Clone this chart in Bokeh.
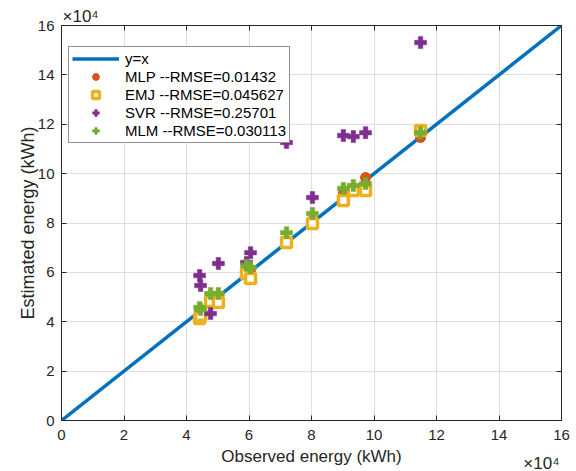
from bokeh.plotting import figure
from bokeh.models import (LinearAxis, Range1d, Legend, LegendItem, Title,
                          CustomJSTickFormatter, FixedTicker)
from bokeh.embed import file_html
from bokeh.resources import INLINE

# ---- data (kWh) ----
observed = [44200, 44500, 47700, 50200, 59200, 60500, 72000, 80300, 90200, 93400, 97300, 114900]
mlp = [43700, 44200, 49400, 50200, 61600, 60000, 72100, 81000, 91900, 94000, 98400, 114600]
emj = [41300, 42500, 48200, 47800, 59500, 57500, 72100, 79800, 89100, 93200, 93200, 117500]
svr = [58700, 54700, 43300, 63600, 64000, 68000, 112600, 90300, 115400, 115000, 116600, 153100]
mlm = [45800, 45000, 51400, 51400, 62800, 62000, 76100, 83800, 94000, 95200, 96000, 116600]
ref_line = [0, 160000]
ticks = [0, 20000, 40000, 60000, 80000, 100000, 120000, 140000, 160000]
labels = ["y=x", "MLP --RMSE=0.01432", "EMJ --RMSE=0.045627",
          "SVR --RMSE=0.25701", "MLM --RMSE=0.030113"]
exponent = "×10⁴"

FONT = "Liberation Sans"
AX = "#262626"

p = figure(width=576, height=471, output_backend="svg", toolbar_location=None,
           x_range=Range1d(0, 160000), y_range=Range1d(0, 160000),
           min_border_left=61, min_border_right=15, min_border_top=25, min_border_bottom=51,
           x_axis_label="Observed energy (kWh)", y_axis_label="Estimated energy (kWh)")
p.outline_line_color = None
p.background_fill_color = "white"
p.border_fill_color = "white"

fmt = CustomJSTickFormatter(code="return (tick/10000).toFixed(0);")
blank = CustomJSTickFormatter(code="return '';")

for ax in (p.xaxis[0], p.yaxis[0]):
    ax.ticker = FixedTicker(ticks=ticks)
    ax.formatter = fmt
    ax.major_tick_in = 5
    ax.major_tick_out = 0
    ax.minor_tick_line_color = None
    ax.axis_line_color = AX
    ax.major_tick_line_color = AX
    ax.major_label_text_color = AX
    ax.major_label_text_font = FONT
    ax.major_label_text_font_size = "15px"
    ax.axis_label_text_font = FONT
    ax.axis_label_text_font_style = "normal"
    ax.axis_label_text_color = AX
p.xaxis[0].major_label_standoff = 9
p.yaxis[0].major_label_standoff = 7
p.xaxis[0].axis_label_text_font_size = "17px"
p.yaxis[0].axis_label_text_font_size = "18px"
p.xaxis[0].axis_label_standoff = 4
p.yaxis[0].axis_label_standoff = -3

for loc in ("above", "right"):
    a = LinearAxis(ticker=FixedTicker(ticks=ticks), formatter=blank,
                   major_tick_in=5, major_tick_out=0,
                   minor_tick_line_color=None, axis_line_color=AX,
                   major_tick_line_color=AX, major_label_standoff=0,
                   major_label_text_font_size="1px")
    p.add_layout(a, loc)

p.xgrid.ticker = FixedTicker(ticks=ticks)
p.ygrid.ticker = FixedTicker(ticks=ticks)
p.xgrid.grid_line_color = "#dfdfdf"
p.ygrid.grid_line_color = "#dfdfdf"

r0 = p.line(ref_line, ref_line, line_color="#0072BD", line_width=3.5)
r1 = p.scatter(observed, mlp, marker="circle", size=10, fill_color="#D95319", line_color="#D95319")
r2 = p.scatter(observed, emj, marker="square", size=10, fill_color="white",
               line_color="#EDB120", line_width=3.5)
r3 = p.scatter(observed, svr, marker="plus", size=12, fill_color="#7E2F8E", line_color="#7E2F8E", line_width=0.5)
r4 = p.scatter(observed, mlm, marker="plus", size=12, fill_color="#77AC30", line_color="#77AC30", line_width=0.5)

legend = Legend(items=[LegendItem(label=t, renderers=[r]) for t, r in zip(labels, [r0, r1, r2, r3, r4])],
                location=(7, 277), margin=0, padding=3, spacing=1,
                glyph_width=47, glyph_height=17, label_height=17, label_standoff=6,
                label_text_font=FONT, label_text_font_size="15px", label_text_color="black",
                border_line_color=AX, border_line_width=1, background_fill_alpha=1)
p.add_layout(legend, "center")

# exponent markers (x10^4) as titles outside the frame
p.title.text = exponent
p.title.align = "left"
p.title.offset = 1
p.title.standoff = 0
p.title.text_font = FONT
p.title.text_font_size = "17px"
p.title.text_font_style = "normal"
p.title.text_color = AX

bottom_exp = Title(text=exponent, align="right", offset=2, standoff=-30,
                   vertical_align="top",
                   text_font=FONT, text_font_size="17px", text_font_style="normal",
                   text_color=AX)
p.add_layout(bottom_exp, "below")

open("out.html", "w").write(file_html(p, INLINE))
